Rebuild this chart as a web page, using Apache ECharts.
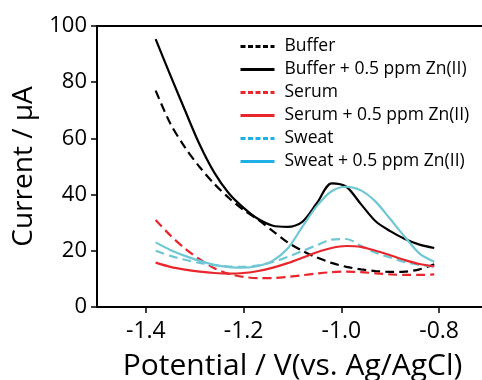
<!DOCTYPE html>
<html>
<head>
<meta charset="utf-8">
<script src="https://cdn.jsdelivr.net/npm/echarts@6/dist/echarts.min.js"></script>
<style>
html,body{margin:0;padding:0;background:#fff;}
#chart{width:482px;height:380px;}
</style>
</head>
<body>
<div id="chart"></div>
<script>
const potential = [-1.38,-1.35,-1.32,-1.29,-1.26,-1.23,-1.20,-1.17,-1.14,-1.11,-1.08,-1.05,-1.02,-0.99,-0.96,-0.93,-0.90,-0.87,-0.84,-0.81];
const buffer      = [77,65.3,56.8,49.8,43.8,38.8,34.5,31.0,27.0,23.0,20.0,17.6,15.7,14.3,13.4,12.8,12.5,12.6,13.4,15.2];
const bufferZn    = [95.3,82.5,70,57.8,47.8,40.4,35.3,31.3,28.9,28.5,30.3,37.0,44.0,42.8,36.6,30.5,27.0,24.2,22.2,21.0];
const serum       = [31,25.5,20.8,17.0,13.8,11.8,10.7,10.3,10.3,10.7,11.3,11.9,12.4,12.6,12.4,12.0,11.6,11.4,11.4,11.6];
const serumZn     = [15.8,14.3,13.3,12.6,12.1,11.9,12.1,12.8,14.0,15.6,17.5,19.5,21.0,21.7,21.4,20.0,18.4,16.7,15.3,14.4];
const sweat       = [20.0,18.2,16.8,15.7,14.9,14.4,14.3,14.8,16.0,17.8,19.9,22.0,24.0,24.2,21.8,19.3,17.6,16.0,15.0,14.4];
const sweatZn     = [23.0,20.3,18.2,16.4,15.0,14.2,14.0,14.6,16.5,20.8,28.5,36,41.2,42.8,41.5,37.5,31.3,24.9,19.0,16.1];
const seriesNames = ['Buffer','Buffer + 0.5 ppm Zn(II)','Serum','Serum + 0.5 ppm Zn(II)','Sweat','Sweat + 0.5 ppm Zn(II)'];
const xTicks = [-1.4,-1.2,-1.0,-0.8];

const FONT = 'Open Sans';
const BLACK = '#000000', RED = '#e8262b', CYAN_PLOT = '#6fc7d4', CYAN_LEG = '#1fb0e8';
const vals = [buffer, bufferZn, serum, serumZn, sweat, sweatZn];
const cols = [BLACK, BLACK, RED, RED, CYAN_PLOT, CYAN_PLOT];
const legCols = [BLACK, BLACK, RED, RED, CYAN_LEG, CYAN_LEG];
const dashed = [true,false,true,false,true,false];

const chart = echarts.init(document.getElementById('chart'), null, {renderer:'canvas'});
chart.setOption({
  animation:false,
  backgroundColor:'#fff',
  grid:{left:97, top:26, right:-6, bottom:73, outerBoundsMode:'none', containLabel:false,
        show:true, borderColor:'#000', borderWidth:2, backgroundColor:'transparent'},
  legend:{
    orient:'vertical', left:239, top:35, padding:0, itemWidth:34, itemHeight:14, itemGap:0,
    itemStyle:{opacity:0, borderWidth:0},
    textStyle:{fontFamily:FONT, fontSize:17.5, color:'#000', lineHeight:23, padding:[0,0,0,5]},
    data: seriesNames.map((n,i)=>({name:n, itemStyle:{opacity:0}, lineStyle:{color:legCols[i], width:3, type: dashed[i]?[5,2.5]:'solid'}}))
  },
  xAxis:{
    type:'value', min:-1.5, max:-0.7,
    axisLine:{show:true, lineStyle:{color:'#000', width:2}},
    axisTick:{show:true, inside:false, length:6, lineStyle:{color:'#000', width:1.5}, customValues:xTicks},
    axisLabel:{customValues:xTicks, formatter:v=>v.toFixed(1), fontFamily:FONT, fontSize:23, color:'#000', margin:13},
    splitLine:{show:false},
    name:'Potential / V(vs. Ag/AgCl)', nameLocation:'middle', nameGap:44,
    nameTextStyle:{fontFamily:FONT, fontSize:30, color:'#000'}
  },
  yAxis:{
    type:'value', min:0, max:100, interval:20,
    axisLine:{show:true, lineStyle:{color:'#000', width:2}},
    axisTick:{show:true, inside:false, length:6, lineStyle:{color:'#000', width:1.5}},
    axisLabel:{fontFamily:FONT, fontSize:22, color:'#000', margin:10},
    splitLine:{show:false},
    name:'Current / μA', nameLocation:'middle', nameGap:58,
    nameTextStyle:{fontFamily:FONT, fontSize:28, color:'#000'}
  },
  series: seriesNames.map((n,i)=>({
    name:n, type:'line', smooth:0.3, symbol:'none',
    data: potential.map((x,j)=>[x, vals[i][j]]),
    lineStyle:{color:cols[i], width:2.2, type: dashed[i]?[9,5]:'solid'},
    itemStyle:{color:cols[i]},
    z: dashed[i]?2:3
  }))
});
</script>
</body>
</html>
